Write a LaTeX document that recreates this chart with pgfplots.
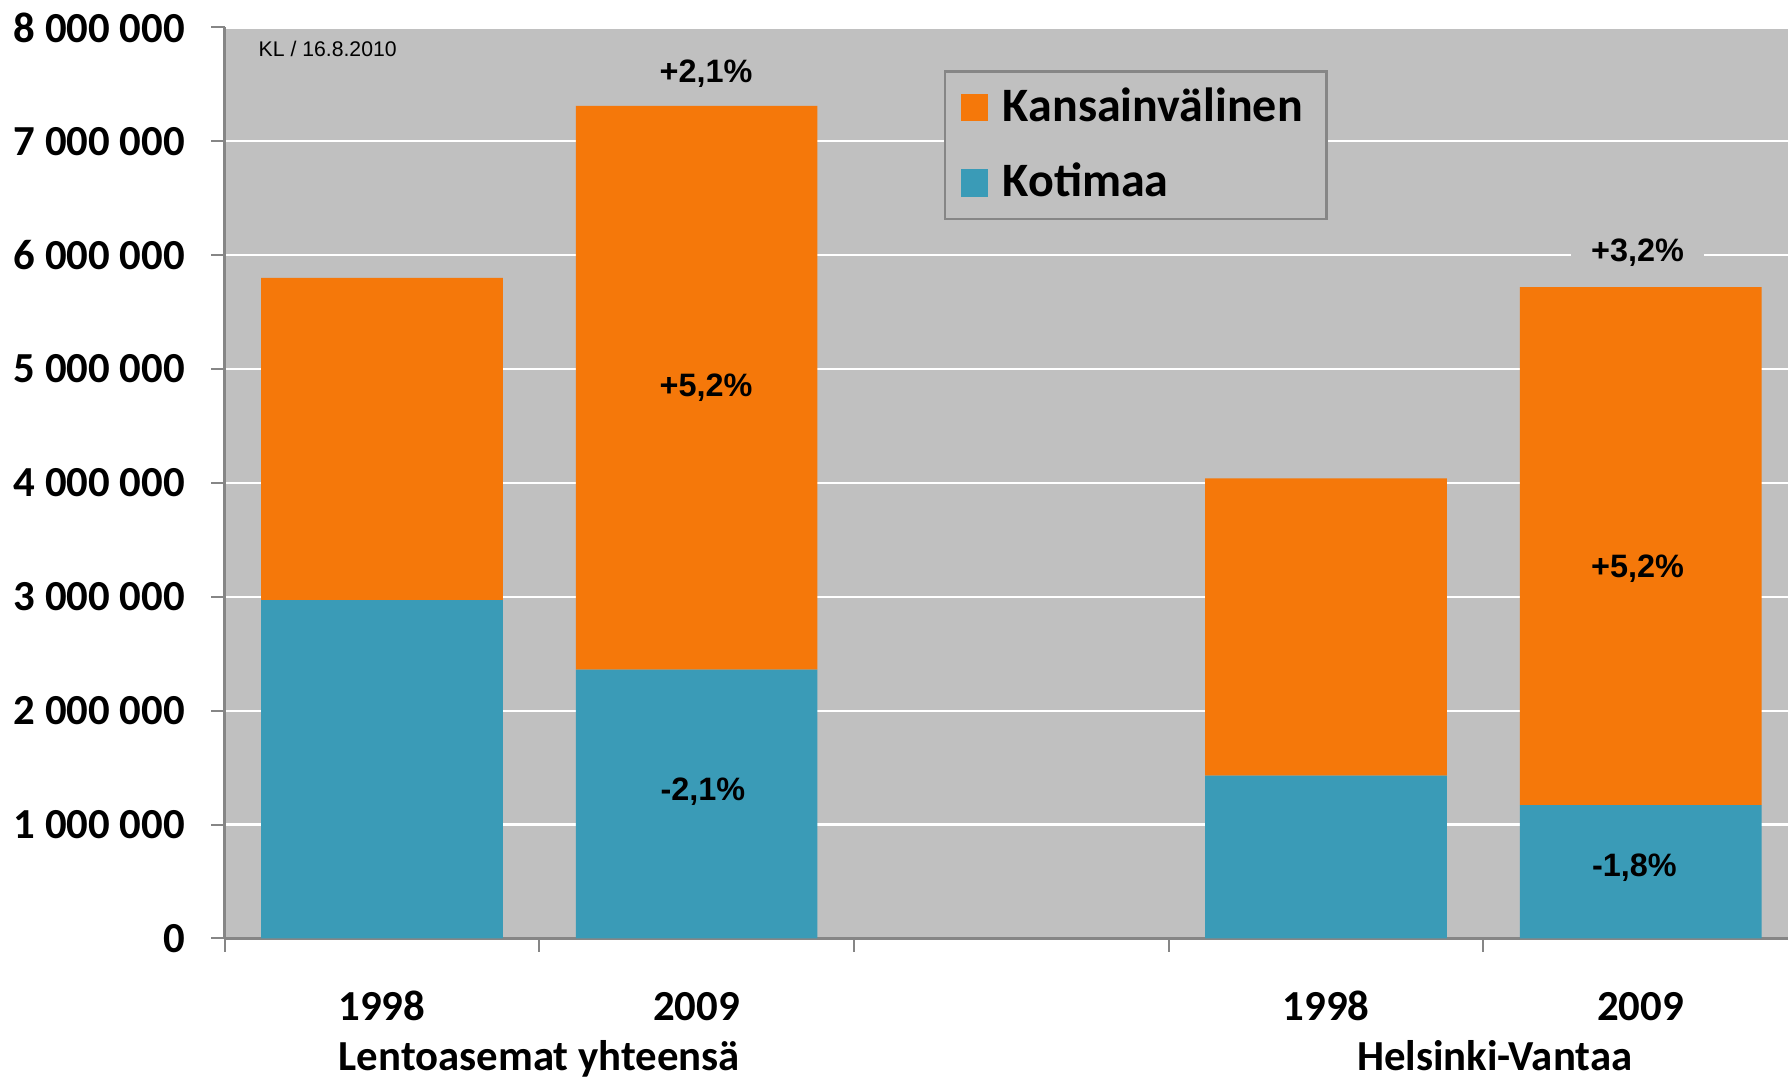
\documentclass[border=0pt]{standalone}
\usepackage{fontspec}
\setmainfont{Carlito}
\newfontfamily\arial{Liberation Sans}
\usepackage{pgfplots}
\pgfplotsset{compat=1.18}
\definecolor{kans}{RGB}{245,120,10}
\definecolor{koti}{RGB}{58,155,183}
\definecolor{bg}{RGB}{192,192,192}
\definecolor{axgray}{RGB}{134,134,134}
\tikzset{pct/.style={font=\arial\bfseries\fontsize{8.1}{10}\selectfont},
  cat/.style={anchor=base, font=\bfseries\fontsize{10.7}{12}\selectfont}}
\begin{document}
\begin{tikzpicture}
\useasboundingbox (-56.15pt,-34.625pt) rectangle (390.85pt,234.625pt);
\begin{axis}[
  at={(0,0)}, anchor=south west,
  scale only axis, width=393.35pt, height=227.775pt,
  xmin=-0.5, xmax=4.5, ymin=0, ymax=8000000,
  ybar stacked, bar width=0.768,
  clip=false,
  axis background/.style={fill=bg},
  axis line style={axgray, line width=0.6pt},
  axis x line*=bottom, axis y line*=left,
  ytick={0,1000000,2000000,3000000,4000000,5000000,6000000,7000000,8000000},
  ymajorgrids, grid style={white, line width=0.6pt},
  scaled y ticks=false,
  /pgf/number format/fixed,
  /pgf/number format/1000 sep={\ },
  /pgf/number format/assume math mode=true,
  tick align=outside, major tick length=3.3pt,
  tick style={axgray, line width=0.5pt},
  yticklabel style={font=\bfseries\fontsize{10.7}{12}\selectfont, xshift=-3.1pt},
  xtick={-0.5,0.5,1.5,2.5,3.5}, xticklabels={},
  reverse legend,
  legend style={at={(rel axis cs:0.457,0.953)}, anchor=north west, fill=bg, draw=axgray, line width=0.6pt,
    font=\bfseries\fontsize{12}{14}\selectfont, row sep=5pt, inner xsep=4pt, inner ysep=2pt,
    /tikz/every odd column/.append style={column sep=1.7pt}},
  legend cell align=left,
  legend image code/.code={\fill[#1] (0pt,-3.4pt) rectangle (6.8pt,3.4pt);},
  after end axis/.code={
    \node[anchor=west, inner sep=0pt, font=\arial\fontsize{5.3}{6}\selectfont] at (rel axis cs:0.0212,0.976) {KL / 16.8.2010};
    \node[pct] at (axis cs:1.03,7590000) {+2,1\%};
    \node[pct] at (axis cs:1.03,4840000) {+5,2\%};
    \node[pct] at (axis cs:1.02,1290000) {-2,1\%};
    \node[pct, fill=bg, inner xsep=5pt] at (axis cs:3.99,6025000) {+3,2\%};
    \node[pct] at (axis cs:3.99,3250000) {+5,2\%};
    \node[pct] at (axis cs:3.98,620000) {-1,8\%};
    \node[cat, yshift=-20.5pt] at (axis cs:0,0) {1998};
    \node[cat, yshift=-20.5pt] at (axis cs:1,0) {2009};
    \node[cat, yshift=-20.5pt] at (axis cs:3,0) {1998};
    \node[cat, yshift=-20.5pt] at (axis cs:4,0) {2009};
    \node[cat, yshift=-32.9pt] at (axis cs:0.5,0) {Lentoasemat yhteensä};
    \node[cat, yshift=-32.9pt] at (axis cs:3.536,0) {Helsinki-Vantaa};
  },
]
\addplot[fill=koti, draw=none] coordinates {(0,2970000) (1,2360000) (3,1430000) (4,1170000)};
\addlegendentry{Kotimaa}
\addplot[fill=kans, draw=none] coordinates {(0,2830000) (1,4950000) (3,2610000) (4,4550000)};
\addlegendentry{Kansainvälinen}
\end{axis}
\end{tikzpicture}
\end{document}
